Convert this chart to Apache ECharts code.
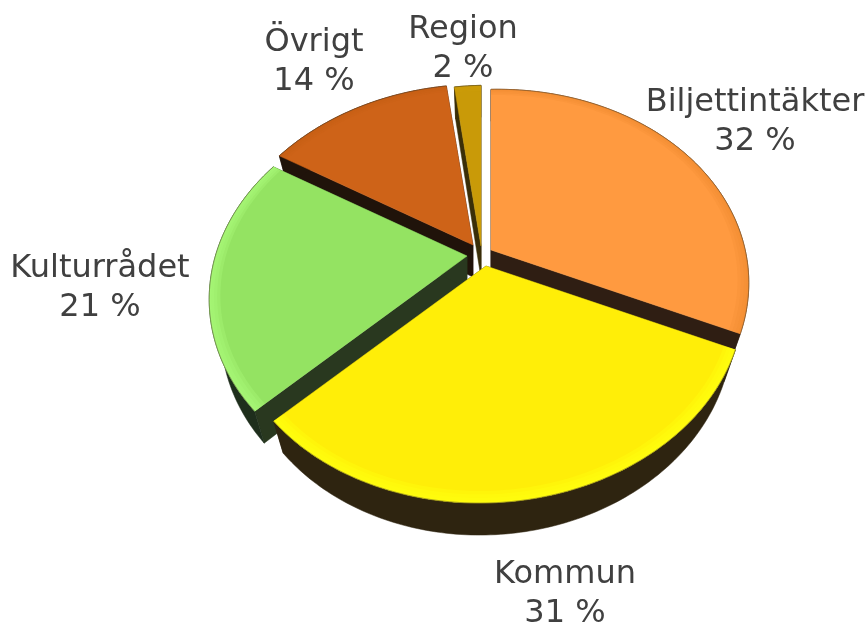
<!DOCTYPE html>
<html>
<head>
<meta charset="utf-8">
<style>
html, body { margin: 0; padding: 0; background: #fff; }
#pie { width: 868px; height: 623px; }
</style>
<script src="https://cdn.jsdelivr.net/npm/echarts@6/dist/echarts.min.js"></script>
</head>
<body>
<div id="pie"></div>
<script>
var categories = ['Biljettintäkter', 'Kommun', 'Kulturrådet', 'Övrigt', 'Region'];
var values = [32, 31, 21, 14, 2];

// look of each slice, same order as categories
var topColors = ['#ff9a40', '#ffee08', '#94e362', '#ce6318', '#c99a08'];
var rimColors = ['#f08a30', '#ffff10', '#a8f878', '#c45c14', '#d0a010'];
var rimAlpha = [0.25, 0.4, 0.4, 0.15, 0.15];
var wallColors = ['#2f1e13', '#2e2410', '#29381f', '#20130a', '#3a2e08'];
var outerWallColors = ['#2f1e13', '#2e2410', '#1e2e1c', '#20130a', '#3a2e08'];
var apexes = [[491, 250], [486, 266], [467, 256], [473, 245], [481, 246]];
var labelPos = [[755, 103], [565, 575], [100, 269], [314, 43], [463, 30]];
var lineGap = 39;
var drawRank = [2, 4, 3, 1, 0];

// fake perspective of the tilted disc
var tilt = 0.192, scaleX = 253, scaleY = 191.5, shear = 0.02, depth = 32, pull = 0.045;

var total = 0;
values.forEach(function (v) { total += v; });

function project(apex, angle, r) {
    var u = Math.sin(angle) * r;
    var v = -Math.cos(angle) * r;
    var s = 1 / (1 - tilt * v);
    var dx = scaleX * u * s;
    return [apex[0] + dx, apex[1] + scaleY * v * s - shear * dx];
}

function lower(p, apex) {
    return [p[0] - (p[0] - apex[0]) * pull, p[1] + depth];
}

function arcPoints(apex, a0, a1, r) {
    var pts = [];
    var n = Math.max(4, Math.ceil((a1 - a0) * 60));
    for (var i = 0; i <= n; i++) {
        pts.push(project(apex, a0 + (a1 - a0) * i / n, r));
    }
    return pts;
}

function poly(points, fill, z2) {
    return { type: 'polygon', z2: z2, shape: { points: points }, style: { fill: fill, stroke: fill, lineWidth: 0.5 } };
}

function renderSlice(params) {
    var i = params.dataIndex;
    var before = 0;
    for (var k = 0; k < i; k++) before += values[k];
    var a0 = before / total * Math.PI * 2;
    var a1 = (before + values[i]) / total * Math.PI * 2;
    var apex = apexes[i];
    var base = drawRank[i] * 20 + 1;

    var arc = arcPoints(apex, a0, a1, 1);
    var lowerArc = arc.map(function (p) { return lower(p, apex); }).reverse();
    var lowerApex = lower(apex, apex);
    var first = arc[0], last = arc[arc.length - 1];

    var children = [
        poly([apex, first, lower(first, apex), lowerApex], wallColors[i], base),
        poly([apex, last, lower(last, apex), lowerApex], wallColors[i], base),
        poly(arc.concat(lowerArc), outerWallColors[i], base + 1),
        poly([apex].concat(arc), topColors[i], base + 2)
    ];
    // soft bevel along the outer edge, a few thin bands stacked
    [0.958, 0.97, 0.982, 0.992].forEach(function (r, b) {
        children.push({
            type: 'polygon', z2: base + 3 + b,
            shape: { points: arc.concat(arcPoints(apex, a0, a1, r).reverse()) },
            style: { fill: rimColors[i], opacity: rimAlpha[i] }
        });
    });
    children.push({
        type: 'polyline', z2: base + 8, shape: { points: arc },
        style: { fill: null, stroke: 'rgba(70,60,40,0.45)', lineWidth: 1 }
    });
    return { type: 'group', children: children };
}

function renderLabel(params) {
    var i = params.dataIndex;
    var font = '32px "DejaVu Sans"';
    return {
        type: 'group',
        children: [
            { type: 'text', z2: 200, style: { text: categories[i], x: labelPos[i][0], y: labelPos[i][1], font: font, fill: '#404040', textAlign: 'center', textVerticalAlign: 'middle' } },
            { type: 'text', z2: 200, style: { text: values[i] + ' %', x: labelPos[i][0], y: labelPos[i][1] + lineGap, font: font, fill: '#404040', textAlign: 'center', textVerticalAlign: 'middle' } }
        ]
    };
}

var myChart = echarts.init(document.getElementById('pie'), null, { renderer: 'canvas' });
var option = {
    backgroundColor: '#ffffff',
    animation: false,
    series: [
        { type: 'custom', coordinateSystem: 'none', silent: true, data: values, renderItem: renderSlice },
        { type: 'custom', coordinateSystem: 'none', silent: true, z: 5, data: values, renderItem: renderLabel }
    ]
};
myChart.setOption(option);
window.addEventListener('resize', myChart.resize);
</script>
</body>
</html>
